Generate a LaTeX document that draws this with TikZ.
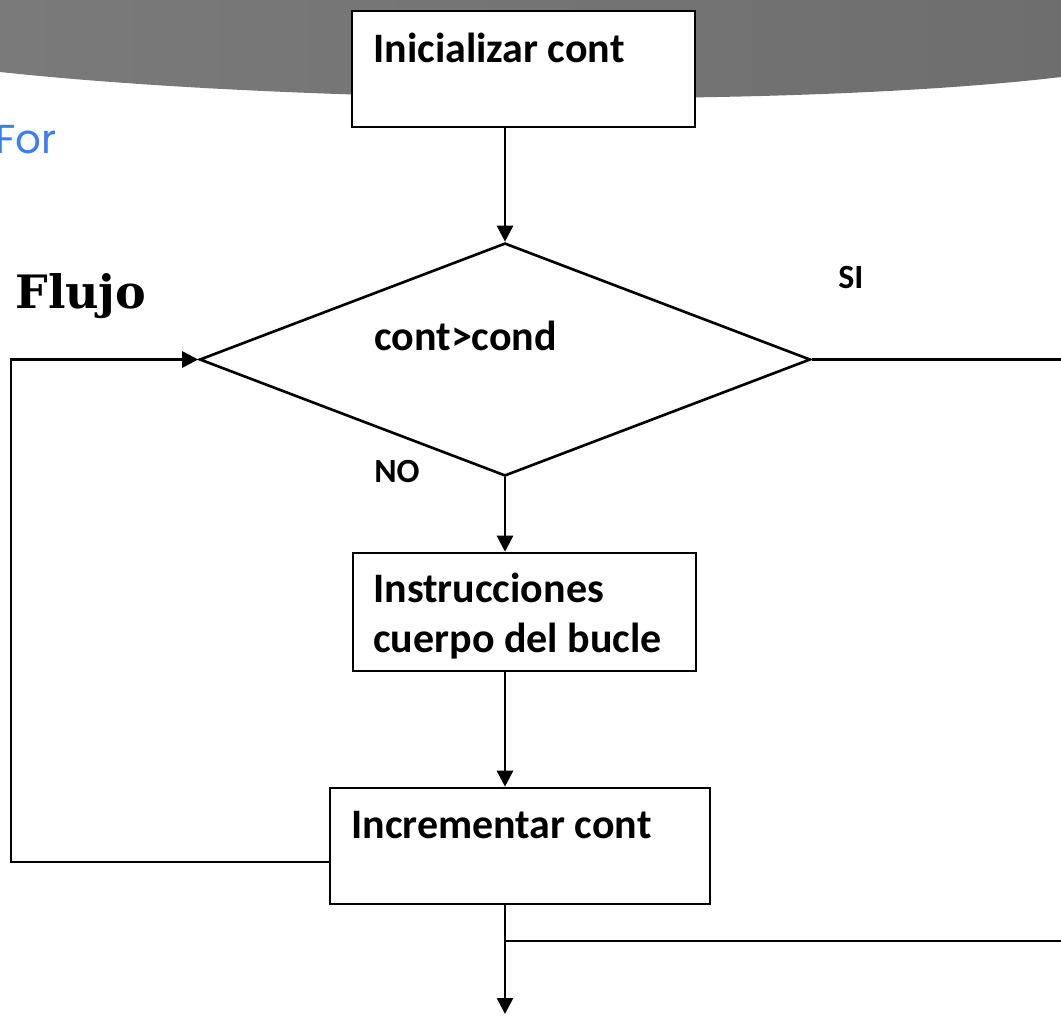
\documentclass[tikz,border=0pt]{standalone}
\usepackage{fontspec}
\setmainfont{Carlito}
\newfontfamily\flowserif{DejaVu Serif}
\newfontfamily\slidesans{Poppins}
\usetikzlibrary{shapes.geometric,arrows.meta}
\definecolor{titleblue}{HTML}{3B7DF6}
\definecolor{bandleft}{HTML}{7A7A7A}
\definecolor{bandmid}{HTML}{606060}
\definecolor{bandright}{HTML}{6E6E6E}
\begin{document}
\begin{tikzpicture}[x=0.02cm,y=-0.02cm,
  flowline/.style={line width=1.5pt, draw=black},
  arr/.style={flowline, -{Triangle[length=0.32cm,width=0.32cm]}},
  procbox/.style={draw, line width=1.5pt, fill=white, rectangle, inner sep=0pt},
  decbox/.style={draw, line width=1.5pt, fill=white, diamond, inner sep=0pt},
  boxtext/.style={font=\bfseries\fontsize{23.9}{28.45}\selectfont, inner sep=0pt, anchor=base west, align=left},
  labeltext/.style={font=\bfseries\fontsize{19.3}{23}\selectfont, inner sep=0pt, anchor=base west},
]
\useasboundingbox (0,0) rectangle (1061,1015);
\clip (0,0) rectangle (1061,1015);
\fill[white] (0,0) rectangle (1061,1015);

% slide header band
\shade[left color=bandleft, middle color=bandmid, right color=bandright]
  (0,0) -- (1061,0) -- (1061,77) .. controls (800,108) and (300,104) .. (0,72) -- cycle;

% slide titles
\node[font=\slidesans\fontsize{23}{27}\selectfont, text=titleblue, anchor=base west, inner sep=0pt] (fortitle) at (-5,153) {For};
\node[font=\flowserif\bfseries\fontsize{26.2}{30}\selectfont, anchor=base west, inner sep=0pt] (flujo) at (15,308) {Flujo};

% flowchart shapes
\node[procbox, minimum width=6.86cm, minimum height=2.32cm] (ini) at (523.5,69) {};
\node[decbox, minimum width=12.22cm, minimum height=4.66cm] (dec) at (505,359.5) {};
\node[procbox, minimum width=6.86cm, minimum height=2.36cm] (body) at (524.5,612) {};
\node[procbox, minimum width=7.6cm, minimum height=2.32cm] (inc) at (520,846) {};

% texts (a multi-line node sits on the baseline of its last line)
\node[boxtext] (initxt) at (373,62) {Inicializar cont};
\node[boxtext] (dectxt) at (374,350) {cont>cond};
\node[boxtext] (bodytxt) at (373,652) {Instrucciones\\cuerpo del bucle};
\node[boxtext] (inctxt) at (351,838) {Incrementar cont};
\node[labeltext] (yes) at (838,288) {SI};
\node[labeltext] (no) at (374,482) {NO};

% free ends of connectors
\coordinate (lp1) at (11,862);
\coordinate (lp2) at (11,359.5);
\coordinate (yesend) at (1061,359.5);
\coordinate (br) at (505,941);
\coordinate (brend) at (1061,941);
\coordinate (exit) at (505,1014);

% connectors
\draw[arr] (ini.south -| dec.north) -- (dec.north);
\draw[arr] (dec.south) -- (dec.south |- body.north);
\draw[arr] (body.south -| dec.south) -- (dec.south |- inc.north);
\draw[arr] (inc.south -| dec.south) -- (exit);
\draw[flowline] (br) -- (brend);
\draw[arr] (inc.west |- lp1) -- (lp1) -- (lp2) -- (dec.west);
\draw[flowline] (dec.east) -- (yesend);
\end{tikzpicture}
\end{document}
